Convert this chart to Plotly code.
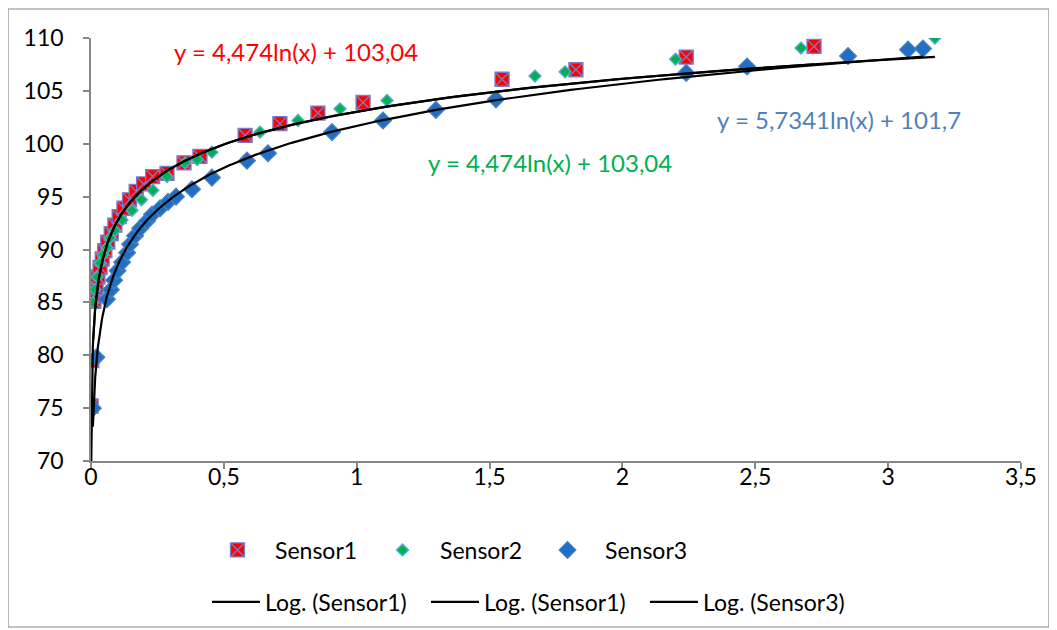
import numpy as np
import plotly.graph_objects as go

# ---- data ----
s1_x = [0.0005, 0.003, 0.011, 0.019, 0.026, 0.034, 0.042, 0.052, 0.063, 0.076, 0.09, 0.106,
        0.124, 0.145, 0.17, 0.198, 0.232, 0.286, 0.35, 0.41, 0.58, 0.711, 0.854, 1.024,
        1.547, 1.825, 2.24, 2.721]
s1_y = [75.2, 79.5, 85.1, 86.4, 87.4, 88.3, 89.1, 89.9, 90.7, 91.5, 92.3, 93.1,
        93.9, 94.7, 95.5, 96.2, 96.9, 97.2, 98.2, 98.8, 100.8, 101.9, 102.9, 103.9,
        106.1, 107.0, 108.2, 109.2]

s2_x = [0.008, 0.015, 0.023, 0.034, 0.045, 0.06, 0.072, 0.09, 0.117, 0.154, 0.19, 0.233,
        0.286, 0.354, 0.40, 0.455, 0.636, 0.779, 0.937, 1.114, 1.671, 1.784, 2.20, 2.672, 3.176]
s2_y = [85.0, 86.2, 87.4, 88.7, 89.5, 90.2, 91.1, 91.8, 92.8, 93.7, 94.7, 95.6,
        96.9, 98.2, 98.5, 99.2, 101.1, 102.2, 103.3, 104.1, 106.4, 106.8, 108.0, 109.05, 110.0]

s3_x = [0.007, 0.02, 0.06, 0.075, 0.087, 0.1, 0.117, 0.136, 0.147, 0.166, 0.185, 0.211,
        0.23, 0.26, 0.29, 0.32, 0.38, 0.455, 0.587, 0.666, 0.907, 1.099, 1.298, 1.524,
        2.24, 2.469, 2.849, 3.075, 3.131]
s3_y = [75.0, 79.8, 85.3, 86.2, 87.1, 88.0, 88.8, 89.7, 90.5, 91.3, 92.0, 92.7,
        93.3, 93.9, 94.5, 95.0, 95.7, 96.8, 98.4, 99.1, 101.1, 102.2, 103.2, 104.2,
        106.7, 107.3, 108.3, 108.9, 109.0]

# logarithmic trend-line coefficients (y = a*ln(x) + b), as printed on the chart
fit1 = (4.474, 103.04)
fit2 = (4.474, 103.04)
fit3 = (5.7341, 101.7)

eq1_text = "y = 4,474ln(x) + 103,04"
eq2_text = "y = 4,474ln(x) + 103,04"
eq3_text = "y = 5,7341ln(x) + 101,7"

x_ticks = [0, 0.5, 1, 1.5, 2, 2.5, 3, 3.5]
y_ticks = [70, 75, 80, 85, 90, 95, 100, 105, 110]

FONT = "Lato, 'Open Sans', sans-serif"
FS = 23
AXIS_GREY = "#868686"

# page body has an 8px margin: plot-area screen target is x 91..1021, y 38..461
OFF = 8
PL, PT, PW, PH = 91 - OFF, 38 - OFF, 930, 423
FW, FH = 1049, 622

fig = go.Figure()

fig.add_trace(go.Scatter(
    x=s1_x, y=s1_y, mode="markers", name="Sensor1", legend="legend",
    marker=dict(symbol="square-x", size=14, color="#ff0000",
                line=dict(color="#7f78c4", width=1.3))))
fig.add_trace(go.Scatter(
    x=s2_x, y=s2_y, mode="markers", name="Sensor2", legend="legend",
    marker=dict(symbol="diamond", size=9, color="#00b050",
                line=dict(color="#4bacc6", width=1.5))))
fig.add_trace(go.Scatter(
    x=s3_x, y=s3_y, mode="markers", name="Sensor3", legend="legend",
    marker=dict(symbol="diamond", size=13, color="#1f6fc5",
                line=dict(color="#4f81bd", width=1.2))))


def trend(xs, coef):
    xx = np.geomspace(min(xs), max(xs), 400)
    return xx, coef[0] * np.log(xx) + coef[1]


for xs, coef, nm in [(s1_x, fit1, "Log. (Sensor1)"),
                     (s2_x, fit2, "Log. (Sensor1)"),
                     (s3_x, fit3, "Log. (Sensor3)")]:
    tx, ty = trend(xs, coef)
    fig.add_trace(go.Scatter(x=tx, y=ty, mode="lines", name=nm, legend="legend2",
                             line=dict(color="black", width=2.2)))

fig.add_annotation(x=0.773, y=108.68, text=eq1_text, showarrow=False,
                   font=dict(color="#ff0000", size=24, family=FONT))
fig.add_annotation(x=1.727, y=98.27, text=eq2_text, showarrow=False,
                   font=dict(color="#00b050", size=24, family=FONT))
fig.add_annotation(x=2.815, y=102.25, text=eq3_text, showarrow=False,
                   font=dict(color="#4f81bd", size=24, family=FONT))


def px_x(p):
    return (p - 91) / PW


def px_y(p):
    return (461 - p) / PH


# outer chart border
fig.add_shape(type="rect", xref="paper", yref="paper",
              x0=px_x(8), x1=px_x(1049), y0=px_y(627), y1=px_y(9),
              line=dict(color="#868686", width=1.2), fillcolor="rgba(0,0,0,0)",
              layer="below")

fig.update_layout(
    width=FW, height=FH,
    margin=dict(l=PL, r=FW - PL - PW, t=PT, b=FH - PT - PH, autoexpand=False),
    paper_bgcolor="white", plot_bgcolor="white",
    separators=", ",
    font=dict(family=FONT, size=FS, color="black"),
    showlegend=True,
    legend=dict(orientation="h", x=px_x(200), xanchor="left",
                y=px_y(550), yanchor="middle",
                font=dict(size=FS, family=FONT), bgcolor="rgba(0,0,0,0)",
                entrywidth=85, entrywidthmode="pixels", itemwidth=65),
    legend2=dict(orientation="h", x=px_x(207), xanchor="left",
                 y=px_y(602), yanchor="middle",
                 font=dict(size=FS, family=FONT), bgcolor="rgba(0,0,0,0)",
                 entrywidth=156, entrywidthmode="pixels", itemwidth=48),
    xaxis=dict(range=[0, 3.5], tickvals=x_ticks, showgrid=False, zeroline=False,
               automargin=False,
               showline=True, linecolor=AXIS_GREY, linewidth=1.5,
               ticks="outside", ticklen=6, tickcolor=AXIS_GREY, tickwidth=1.5,
               ticklabelstandoff=-11,
               tickfont=dict(size=FS, family=FONT, color="black")),
    yaxis=dict(range=[70, 110], tickvals=y_ticks, showgrid=False, zeroline=False,
               automargin=False,
               showline=True, linecolor=AXIS_GREY, linewidth=1.5,
               ticks="outside", ticklen=6, tickcolor=AXIS_GREY, tickwidth=1.5,
               ticklabelstandoff=15,
               tickfont=dict(size=FS, family=FONT, color="black")),
)

fig.write_html("out.html")
